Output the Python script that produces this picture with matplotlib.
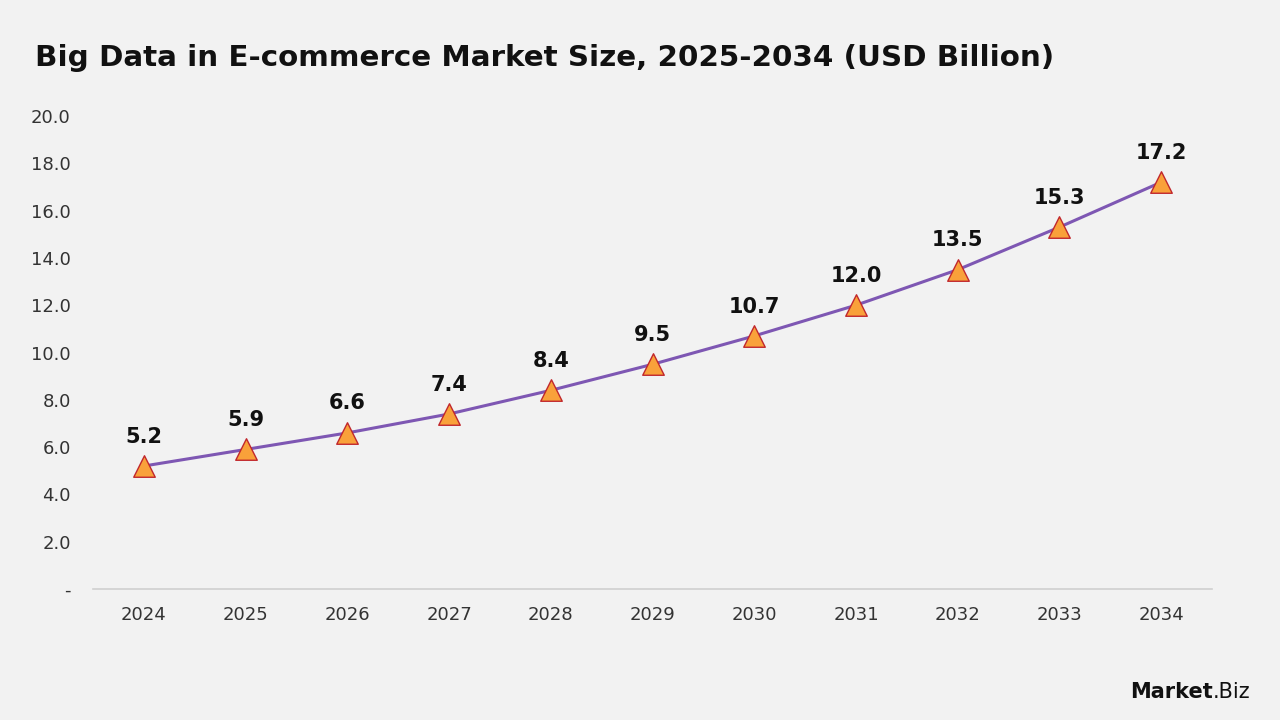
import matplotlib.pyplot as plt
from matplotlib.ticker import FixedLocator

plt.rcParams['font.family'] = ['DejaVu Sans']

years = [2024, 2025, 2026, 2027, 2028, 2029, 2030, 2031, 2032, 2033, 2034]
market_size = [5.2, 5.9, 6.6, 7.4, 8.4, 9.5, 10.7, 12.0, 13.5, 15.3, 17.2]
y_ticks = [0, 2, 4, 6, 8, 10, 12, 14, 16, 18, 20]
y_tick_labels = ['-', '2.0', '4.0', '6.0', '8.0', '10.0', '12.0', '14.0', '16.0', '18.0', '20.0']

bg = '#f2f2f2'
fig = plt.figure(figsize=(12.8, 7.2), dpi=100, facecolor=bg)
ax = fig.add_axes([93 / 1280, 1 - 589 / 720, (1212 - 93) / 1280, (589 - 116) / 720])
ax.set_facecolor(bg)

# ligne + marqueurs triangles
ax.plot(years, market_size, color='#7e57b3', linewidth=2.2, zorder=2)
ax.scatter(years, market_size, marker='^', s=240, color='#f9a13a',
           edgecolor='#c1272d', linewidth=1.0, zorder=3)

# valeurs au-dessus des points
for x, v in zip(years, market_size):
    ax.annotate(f'{v:.1f}', (x, v), xytext=(0, 14), textcoords='offset points',
                ha='center', va='bottom', fontsize=15, fontweight='bold', color='#111111')

ax.set_xlim(2023.5, 2034.5)
ax.set_ylim(0, 20)
ax.xaxis.set_major_locator(FixedLocator(years))
ax.set_xticklabels([str(y) for y in years])
ax.set_yticks(y_ticks)
ax.set_yticklabels(y_tick_labels)
ax.tick_params(axis='both', length=0, labelsize=13, colors='#333333')
ax.tick_params(axis='x', pad=12)
ax.tick_params(axis='y', pad=16)

for side in ['top', 'right', 'left']:
    ax.spines[side].set_visible(False)
ax.spines['bottom'].set_color('#d0d0d0')
ax.spines['bottom'].set_linewidth(1.2)

fig.text(35 / 1280, 1 - 58 / 720, 'Big Data in E-commerce Market Size, 2025-2034 (USD Billion)',
         fontsize=21.2, fontweight='bold', color='#111111', va='center', ha='left')

# logo
fig.text(1213 / 1280, 1 - 692 / 720, 'Market', fontsize=15, fontweight='bold',
         color='#111111', va='center', ha='right')
fig.text(1213 / 1280, 1 - 692 / 720, '.Biz', fontsize=15, color='#111111',
         va='center', ha='left')

fig.savefig('out.png', dpi=100, facecolor=bg)
